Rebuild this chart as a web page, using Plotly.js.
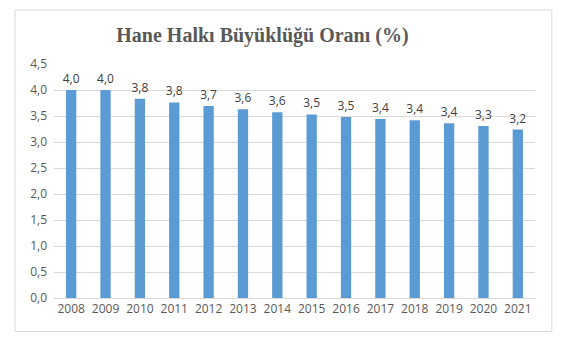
<!DOCTYPE html>
<html>
<head>
<meta charset="utf-8">
<script src="https://cdn.plot.ly/plotly-3.0.1.min.js"></script>
<style>html,body{margin:0;padding:0;background:#fff;}#chart{width:562px;height:345px;}</style>
</head>
<body>
<div id="chart"></div>
<script>
const years = ['2008','2009','2010','2011','2012','2013','2014','2015','2016','2017','2018','2019','2020','2021'];
const values = [4.00, 4.00, 3.83, 3.76, 3.69, 3.63, 3.57, 3.53, 3.48, 3.44, 3.42, 3.36, 3.31, 3.24];
const yTicks = [0, 0.5, 1, 1.5, 2, 2.5, 3, 3.5, 4, 4.5];
const chartTitle = 'Hane Halkı Büyüklüğü Oranı (%)';

const trace = {
  type: 'bar',
  x: years,
  y: values,
  marker: {color: '#5b9bd5'},
  texttemplate: '%{y:.1f}',
  textposition: 'outside',
  constraintext: 'none',
  cliponaxis: false,
  textfont: {family: 'Open Sans, sans-serif', size: 12, color: '#404040'},
  hoverinfo: 'none'
};

const layout = {
  width: 562, height: 345,
  margin: {l: 54, r: 27, t: 64, b: 47},
  paper_bgcolor: '#ffffff',
  plot_bgcolor: '#ffffff',
  separators: ',.',
  bargap: 0.7,
  showlegend: false,
  title: {
    text: '<b>' + chartTitle + '</b>',
    font: {family: 'Liberation Serif, serif', size: 20, color: '#595959'},
    x: 0.467, xanchor: 'center', y: 1 - 35/345, yanchor: 'middle'
  },
  xaxis: {
    type: 'category',
    tickfont: {family: 'Open Sans, sans-serif', size: 12, color: '#595959'},
    showline: true, linecolor: '#d9d9d9', linewidth: 1,
    ticks: '', showgrid: false, zeroline: false
  },
  yaxis: {
    range: [0, 4.5],
    tickvals: yTicks,
    tickformat: '.1f',
    tickfont: {family: 'Open Sans, sans-serif', size: 12, color: '#595959'},
    showgrid: true, gridcolor: '#d9d9d9', gridwidth: 1,
    zeroline: false, showline: false, ticks: '',
    ticklabelstandoff: 6
  },
  shapes: [{
    type: 'rect', xref: 'paper', yref: 'paper',
    x0: -0.081, x1: 1.035, y0: -0.1425, y1: 1.231,
    line: {color: '#d9d9d9', width: 1}, fillcolor: 'rgba(0,0,0,0)', layer: 'below'
  }]
};

Plotly.newPlot('chart', [trace], layout, {displayModeBar: false, staticPlot: true});
</script>
</body>
</html>
